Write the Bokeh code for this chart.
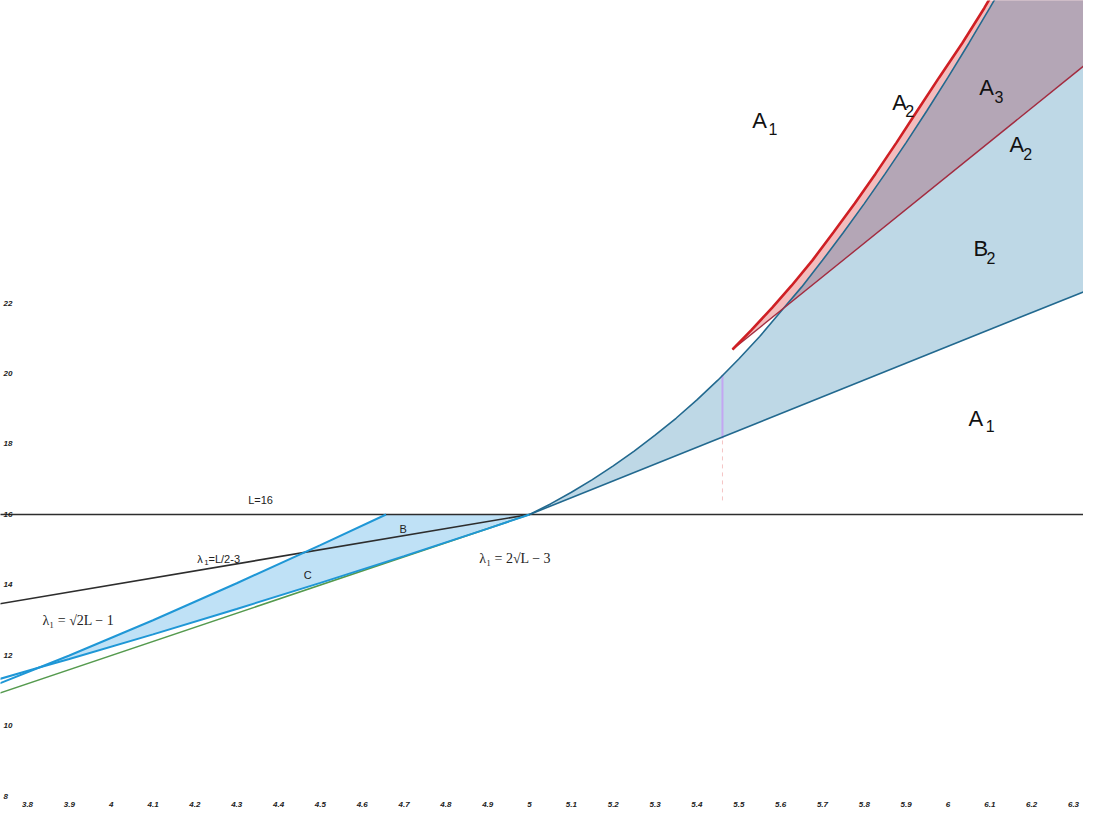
from bokeh.plotting import figure
from bokeh.embed import file_html
from bokeh.resources import INLINE
from bokeh.core.properties import value

# ---------------- data ----------------
x_ticks = [3.8, 3.9, 4.0, 4.1, 4.2, 4.3, 4.4, 4.5, 4.6, 4.7, 4.8, 4.9, 5.0,
           5.1, 5.2, 5.3, 5.4, 5.5, 5.6, 5.7, 5.8, 5.9, 6.0, 6.1, 6.2, 6.3]
x_tick_labels = ["3.8", "3.9", "4", "4.1", "4.2", "4.3", "4.4", "4.5", "4.6", "4.7",
                 "4.8", "4.9", "5", "5.1", "5.2", "5.3", "5.4", "5.5", "5.6", "5.7",
                 "5.8", "5.9", "6", "6.1", "6.2", "6.3"]
y_ticks = [8, 10, 12, 14, 16, 18, 20, 22]
y_tick_labels = ["8", "10", "12", "14", "16", "18", "20", "22"]

# horizontal line L = 16
l16_x = [3.70, 6.40]
l16_y = [16.0, 16.0]
# lambda1 = L/2 - 3
half_x = [3.70, 5.00]
half_y = [13.40, 16.00]
# green tangent line
green_x = [3.70, 5.00]
green_y = [10.80, 16.00]
# lambda1 = sqrt(2L) - 1 (upper-left blue)
ub_x = [3.70, 3.828, 3.90, 4.10, 4.30, 4.50, 4.657]
ub_y = [11.05, 11.66, 12.00, 13.00, 14.05, 15.13, 16.00]
# lambda1 = 2 sqrt(L) - 3 (lower-left blue)
lb_x = [3.70, 3.828, 3.90, 4.10, 4.30, 4.50, 4.70, 4.90, 5.00]
lb_y = [11.22, 11.66, 11.90, 12.60, 13.32, 14.06, 14.82, 15.60, 16.00]

# right-hand curved boundary (dark blue)
b_x = [5.00, 5.05, 5.10, 5.15, 5.20, 5.25, 5.30, 5.35, 5.40, 5.45, 5.50, 5.55,
       5.605, 5.65, 5.70, 5.75, 5.80, 5.85, 5.90, 5.95, 6.00, 6.05, 6.10, 6.15]
b_y = [16.00, 16.30, 16.63, 16.99, 17.38, 17.80, 18.25, 18.73, 19.25, 19.81,
       20.41, 21.05, 21.82, 22.45, 23.21, 24.00, 24.82, 25.67, 26.55, 27.46,
       28.40, 29.37, 30.37, 31.40]
# lower straight boundary (dark blue)
ll_x = [5.00, 6.40]
ll_y = [16.00, 22.68]
# red curve
r_x = [5.485, 5.530, 5.580, 5.626, 5.676, 5.726, 5.777, 5.827, 5.877, 5.927,
       5.979, 6.034, 6.087, 6.137]
r_y = [20.68, 21.23, 21.87, 22.49, 23.21, 24.00, 24.82, 25.67, 26.55, 27.46,
       28.40, 29.37, 30.37, 31.40]
# maroon straight line
m_x = [5.485, 6.40]
m_y = [20.68, 29.45]
# vertical marker at lambda1 = 5.461
vm_x = [5.461, 5.461]
vm_y = [18.16, 19.96]
vd_y = [16.40, 18.16]

cross_idx = 12         # index in b_x where the curve meets the maroon line
ucross_idx = 1         # index where the two left curves meet

# ---------------- figure ----------------
X0, X1 = 3.73547, 6.32392
Y0, Y1 = 7.6028, 30.5816
p = figure(width=1083, height=810, x_range=(X0, X1), y_range=(Y0, Y1),
           output_backend="svg", toolbar_location=None,
           x_axis_location=None, y_axis_location=None, min_border=0)
p.outline_line_color = None
p.background_fill_color = "white"
p.border_fill_color = "white"
p.grid.visible = False

# ---------------- fills ----------------
p.patch(ub_x[ucross_idx:] + lb_x[ucross_idx:][::-1],
        ub_y[ucross_idx:] + lb_y[ucross_idx:][::-1],
        fill_color="#bfe1f6", line_color=None)
p.patch(b_x + [ll_x[-1]] + ll_x[::-1],
        b_y + [b_y[-1]] + ll_y[::-1],
        fill_color="#bed8e6", line_color=None)
p.patch(r_x + [m_x[-1], m_x[-1]],
        r_y + [r_y[-1], m_y[-1]],
        fill_color="#f3bcbd", line_color=None)
p.patch(b_x[cross_idx:] + [m_x[-1], m_x[-1]],
        b_y[cross_idx:] + [b_y[-1], m_y[-1]],
        fill_color="#b4a6b6", line_color=None)

# ---------------- lines ----------------
p.line(l16_x, l16_y, line_color="#2d2d2d", line_width=1.6)
p.line(half_x, half_y, line_color="#2d2d2d", line_width=1.6)
p.line(green_x, green_y, line_color="#559a4e", line_width=1.5)
p.line(lb_x, lb_y, line_color="#1f97d6", line_width=2)
p.line(ub_x, ub_y, line_color="#1f97d6", line_width=2)

p.line(vm_x, vd_y, line_color="#f5c4c4", line_width=1, line_dash="4 4")
p.line(vm_x, vm_y, line_color="#c3a6f2", line_width=2)

p.line(ll_x, ll_y, line_color="#22698f", line_width=1.6)
p.line(b_x, b_y, line_color="#22698f", line_width=1.6)
p.line(m_x, m_y, line_color="#a22c40", line_width=1.4)
p.line(r_x, r_y, line_color="#cf1f24", line_width=2.6)

# ---------------- tick labels ----------------
tick_font = value("Liberation Sans")
p.text(x=x_ticks, y=[7.773] * len(x_ticks), text=x_tick_labels,
       text_font=tick_font, text_font_size="8px", text_font_style="bold italic",
       text_color="#222222", text_align="center", text_baseline="middle")
p.text(x=[X0] * len(y_ticks), y=y_ticks, text=y_tick_labels,
       text_font=tick_font, text_font_size="8px", text_font_style="bold italic",
       text_color="#222222", text_align="left", text_baseline="middle",
       x_offset=3)

# ---------------- region labels ----------------
big_x = [5.532, 5.867, 6.075, 6.147, 6.061, 6.049]
big_y = [27.18, 27.70, 28.10, 26.50, 23.55, 18.72]
big_t = ["A", "A", "A", "A", "B", "A"]
sub_x = [5.571, 5.898, 6.111, 6.180, 6.092, 6.090]
sub_y = [26.95, 27.46, 27.84, 26.24, 23.29, 18.50]
sub_t = ["1", "2", "3", "2", "2", "1"]
sans = value("Liberation Sans")
p.text(x=big_x, y=big_y, text=big_t, text_font=sans, text_font_size="22px",
       text_color="#111111", text_align="left", text_baseline="alphabetic")
p.text(x=sub_x, y=sub_y, text=sub_t, text_font=sans, text_font_size="16px",
       text_color="#111111", text_align="left", text_baseline="alphabetic")

p.text(x=[4.357], y=[16.40], text=["L=16"], text_font=sans, text_font_size="11px",
       text_color="#222222", text_align="center", text_baseline="alphabetic")
p.text(x=[4.206, 4.2326, 4.689, 4.460], y=[14.75, 14.75, 15.60, 14.27],
       text=["λ", "=L/2-3", "B", "C"], text_font=sans, text_font_size="11px",
       text_color="#222222", text_align="left", text_baseline="alphabetic")
p.text(x=[4.2225], y=[14.63], text=["1"], text_font=sans, text_font_size="8px",
       text_color="#222222", text_align="left", text_baseline="alphabetic")

serif = value("Liberation Serif")
p.text(x=[4.880, 3.836], y=[14.76, 12.99],
       text=["λ₁ = 2√L − 3", "λ₁ = √2L − 1"],
       text_font=serif, text_font_size="14px", text_color="#222222",
       text_align="left", text_baseline="alphabetic")

open("out.html", "w").write(file_html(p, INLINE))
